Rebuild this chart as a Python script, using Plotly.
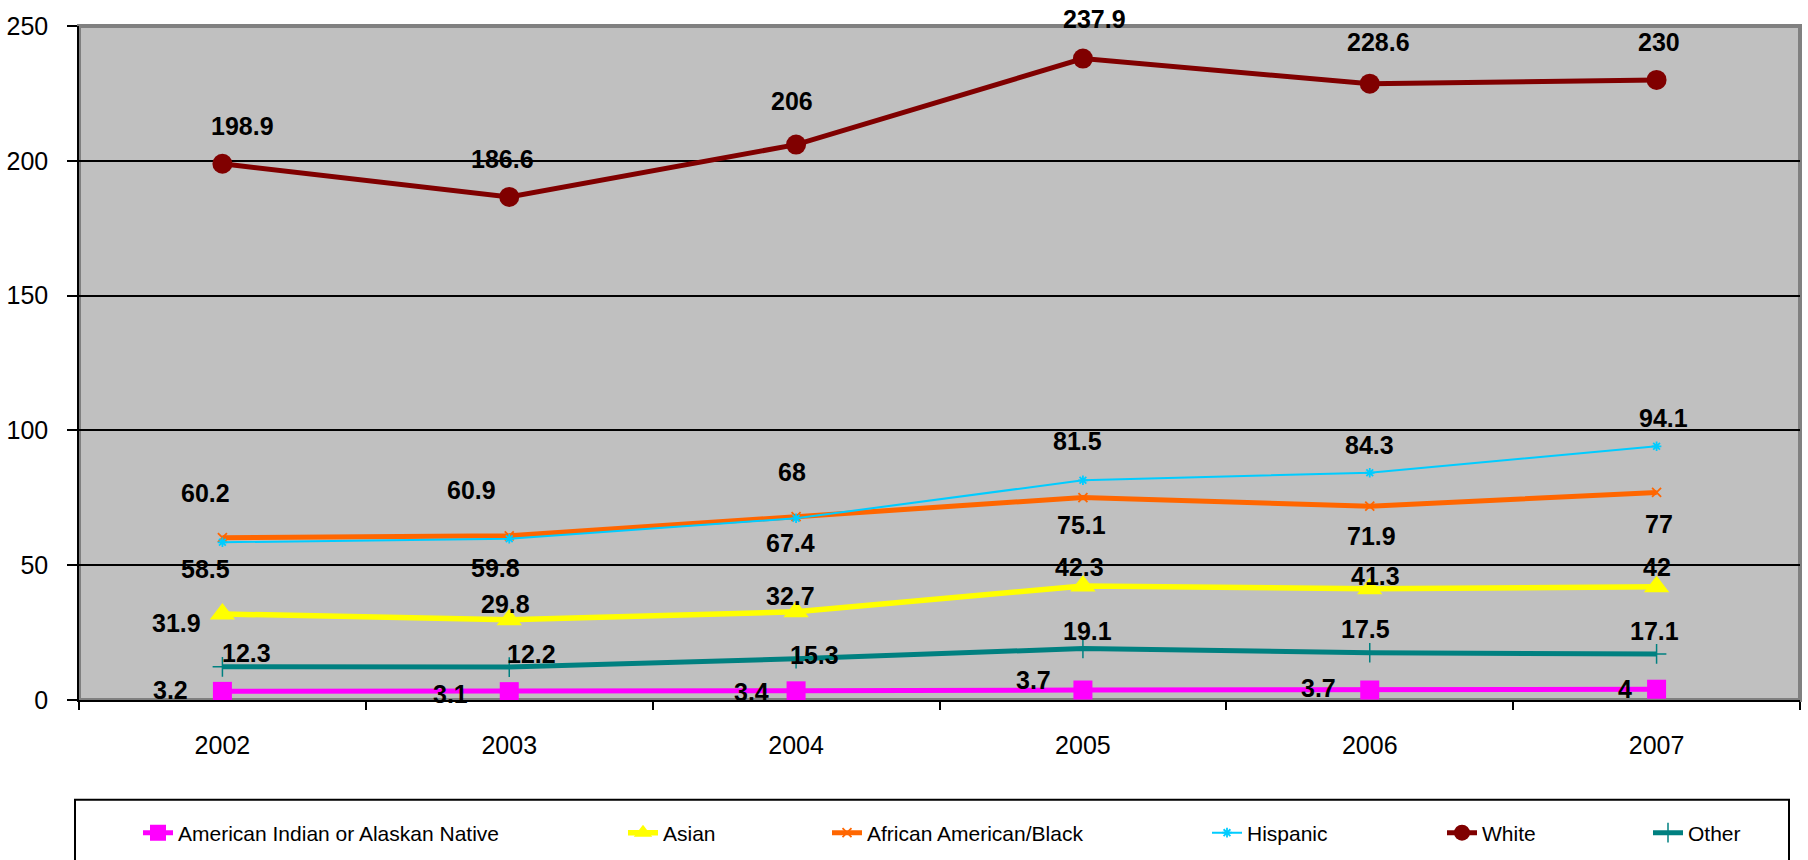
import plotly.graph_objects as go

# ---- data -------------------------------------------------------------
years = ["2002", "2003", "2004", "2005", "2006", "2007"]

american_indian = [3.2, 3.1, 3.4, 3.7, 3.7, 4]
asian = [31.9, 29.8, 32.7, 42.3, 41.3, 42]
african_american = [60.2, 60.9, 68, 75.1, 71.9, 77]
hispanic = [58.5, 59.8, 67.4, 81.5, 84.3, 94.1]
white = [198.9, 186.6, 206, 237.9, 228.6, 230]
other = [12.3, 12.2, 15.3, 19.1, 17.5, 17.1]

y_ticks = [0, 50, 100, 150, 200, 250]

# ---- styling ----------------------------------------------------------
FONT = "Liberation Sans, Arial, sans-serif"

series = [
    dict(name="American Indian or Alaskan Native", values=american_indian,
         color="#FF00FF", width=5, symbol="square", size=19, mline=0,
         dx=[-52, -59, -45, -49, -51, -32], dy=[0, 3, 2, -9, -1, 1]),
    dict(name="Asian", values=asian,
         color="#FFFF00", width=5.5, symbol="triangle-up", size=22, mline=0,
         dx=[-46, -4, -6, -3, 6, 0], dy=[10, -15, -15, -18, -12, -19]),
    dict(name="African American/Black", values=african_american,
         color="#FF6600", width=5, symbol="x-thin-open", size=9, mline=1.8,
         dx=[-17, -38, -4, -1, 2, 2], dy=[-44, -45, -44, 28, 31, 33]),
    dict(name="Hispanic", values=hispanic,
         color="#00CCFF", width=2, symbol="asterisk-open", size=8, mline=1.8,
         dx=[-17, -14, -6, -5, 0, 7], dy=[28, 30, 26, -38, -27, -27]),
    dict(name="White", values=white,
         color="#800000", width=5, symbol="circle", size=20, mline=0,
         dx=[20, -7, -4, 12, 9, 2], dy=[-37, -37, -43, -39, -41, -37]),
    dict(name="Other", values=other,
         color="#008080", width=5, symbol="cross-thin-open", size=14, mline=1.5,
         dx=[24, 22, 18, 5, -4, -2], dy=[-13, -12, -3, -17, -23, -22]),
]

# legend entries sit on one row; left edge of each entry in pixels
legend_left_px = [138, 623, 827, 1207, 1442, 1648]

PLOT_L, PLOT_R, PLOT_T, PLOT_B = 79, 1800, 26, 701
W, H = 1808, 860
plot_w = PLOT_R - PLOT_L
plot_h = PLOT_B - PLOT_T

fig = go.Figure()
annotations = []
layout_legends = {}

for i, s in enumerate(series):
    legend_id = "legend" if i == 0 else f"legend{i + 1}"
    marker = dict(symbol=s["symbol"], size=s["size"], color=s["color"])
    if s["mline"]:
        marker["line"] = dict(color=s["color"], width=s["mline"])
    fig.add_trace(go.Scatter(
        x=years, y=s["values"], name=s["name"], mode="lines+markers",
        line=dict(color=s["color"], width=s["width"]),
        marker=marker, legend=legend_id, cliponaxis=False,
    ))
    # value labels, one per point, offset in pixels from the marker
    for k, (v, dx, dy) in enumerate(zip(s["values"], s["dx"], s["dy"])):
        annotations.append(dict(
            x=k, y=v, xref="x", yref="y", text=f"<b>{v:g}</b>",
            showarrow=False, xanchor="center", yanchor="middle",
            xshift=dx, yshift=-dy + 1,
            font=dict(family=FONT, size=25, color="black"),
        ))
    layout_legends[legend_id] = dict(
        x=(legend_left_px[i] - PLOT_L) / plot_w,
        y=(PLOT_B - 833) / plot_h,
        xanchor="left", yanchor="middle", orientation="h",
        bgcolor="rgba(0,0,0,0)", borderwidth=0,
        font=dict(family=FONT, size=21, color="black"),
    )

shapes = [
    # plot-area frame
    dict(type="rect", xref="paper", yref="paper", x0=0, x1=1, y0=0, y1=1,
         line=dict(color="#808080", width=4), layer="between"),
    # legend frame
    dict(type="rect", xref="paper", yref="paper",
         x0=(75 - PLOT_L) / plot_w, x1=(1789 - PLOT_L) / plot_w,
         y0=(PLOT_B - 880) / plot_h, y1=(PLOT_B - 801) / plot_h,
         line=dict(color="black", width=2), fillcolor="rgba(0,0,0,0)"),
]

fig.update_layout(
    width=W, height=H,
    margin=dict(l=PLOT_L, r=W - PLOT_R, t=PLOT_T, b=H - PLOT_B, pad=0),
    paper_bgcolor="white", plot_bgcolor="#C0C0C0",
    showlegend=True,
    shapes=shapes,
    font=dict(family=FONT, color="black"),
    **layout_legends,
)
for a in annotations:
    fig.add_annotation(**a)

fig.update_xaxes(
    type="category", range=[-0.5, 5.5], tickson="boundaries",
    ticks="outside", ticklen=8, tickwidth=1.5, tickcolor="black",
    showline=True, linecolor="black", linewidth=1.5,
    showgrid=False, zeroline=False,
    tickfont=dict(family=FONT, size=25, color="black"),
    ticklabelstandoff=22,
)
fig.update_yaxes(
    range=[0, 250], tickvals=y_ticks,
    ticks="outside", ticklen=10, tickwidth=1.5, tickcolor="black",
    showline=True, linecolor="black", linewidth=1.5,
    showgrid=True, gridcolor="black", gridwidth=1.6, zeroline=False,
    tickfont=dict(family=FONT, size=25, color="black"),
    ticklabelstandoff=14,
)

fig.write_html("out.html")
